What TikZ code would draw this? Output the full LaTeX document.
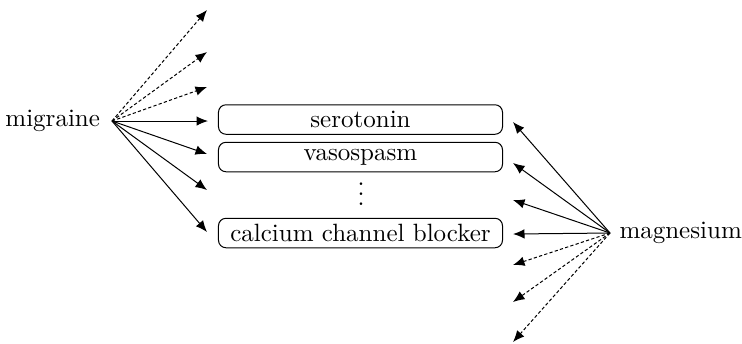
\documentclass[tikz,border=0pt]{standalone}
\usetikzlibrary{arrows.meta}
\begin{document}
\begin{tikzpicture}[x=0.4pt,y=-0.4pt,
  conn/.style={-{Latex[length=4.6pt,width=3.8pt]}, line width=0.4pt},
  dashconn/.style={conn, dash pattern=on 1.3pt off 0.9pt},
  item/.style={draw, rounded corners=3pt, minimum width=113.6pt, minimum height=11.8pt, inner sep=1pt},
  label/.style={inner sep=3.33pt}]
\useasboundingbox (0,0) rectangle (742,343);
\node[label, inner xsep=4.6pt, anchor=east] (mig) at (112,121) {migraine};
\node[label, inner xsep=3.6pt, anchor=west] (mag) at (610,233) {magnesium};
\coordinate (mo) at (112,121);
\coordinate (go) at (610,233);
\node[item] (sero) at (360.5,119.5) {serotonin};
\node[item] (vaso) at (360.5,157) {vasospasm};
\node[item] (calc) at (360.5,233) {calcium channel blocker};
\node[inner sep=0pt] (dots) at (361,187) {$\vdots$};
% left targets
\coordinate (l1) at (207,10);
\coordinate (l2) at (207,52);
\coordinate (l3) at (207,87);
\coordinate (l4) at (208,121);
\coordinate (l5) at (207,154);
\coordinate (l6) at (207,190);
\coordinate (l7) at (207,232);
% right targets
\coordinate (r1) at (513,122);
\coordinate (r2) at (513,163);
\coordinate (r3) at (513,200);
\coordinate (r4) at (513,234);
\coordinate (r5) at (513,265);
\coordinate (r6) at (513,302);
\coordinate (r7) at (513,342);
\foreach \t in {l1,l2,l3} \draw[dashconn] (mo) -- (\t);
\foreach \t in {l4,l5,l6,l7} \draw[conn] (mo) -- (\t);
\foreach \t in {r1,r2,r3,r4} \draw[conn] (go) -- (\t);
\foreach \t in {r5,r6,r7} \draw[dashconn] (go) -- (\t);
\end{tikzpicture}
\end{document}
